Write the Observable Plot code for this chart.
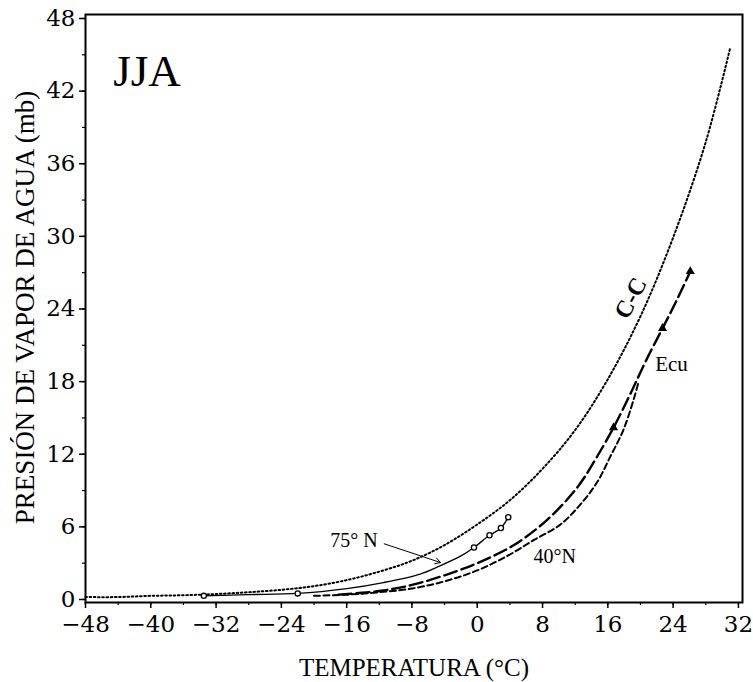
<!DOCTYPE html>
<html>
<head>
<meta charset="utf-8">
<script src="https://cdn.jsdelivr.net/npm/d3@7"></script>
<script src="https://cdn.jsdelivr.net/npm/@observablehq/plot@0.6"></script>
<style>
  html, body { margin: 0; padding: 0; background: white; }
  #chart svg { display: block; }
</style>
</head>
<body>
<div id="chart"></div>
<script>
// Curva de Clausius-Clapeyron (C-C)
const ccT = [-48, -44, -40, -36, -32, -28, -24, -20, -16, -12, -8, -4, 0, 4, 8, 12, 16, 20, 24, 28, 31];
const ccE = [0.2, 0.2, 0.3, 0.35, 0.45, 0.6, 0.8, 1.1, 1.6, 2.3, 3.2, 4.5, 6.2, 8.2, 10.8, 14.0, 18.2, 23.4, 29.9, 37.8, 45.6];

// 75° N (línea continua)
const n75T = [-33.5, -28, -22, -16, -11.5, -7, -4.5, -2, -0.4, 1.5, 2.9, 3.8];
const n75E = [0.3, 0.4, 0.5, 0.9, 1.4, 2.1, 2.8, 3.6, 4.3, 5.3, 5.9, 6.8];
const n75Marks = [-33.5, -22, -0.4, 1.5, 2.9, 3.8];

// Ecuador (trazos largos)
const ecuT = [-17, -12, -8, -4, 0, 4.5, 8.6, 12.3, 14.5, 16.7, 18.2, 19.4, 20.8, 22.7, 24.5, 26.1];
const ecuE = [0.4, 0.7, 1.2, 2.0, 3.0, 4.5, 6.6, 9.3, 11.6, 14.2, 16.2, 17.9, 19.9, 22.4, 24.8, 27.1];
const ecuMarks = [16.7, 22.7, 26.1];

// 40° N (trazos cortos)
const n40T = [-20, -16, -12, -8, -4, 0, 3.7, 6.9, 10.2, 12.7, 14.7, 16.3, 17.9, 19.2, 19.7];
const n40E = [0.3, 0.4, 0.6, 0.9, 1.5, 2.4, 3.6, 4.9, 6.2, 7.9, 9.7, 11.8, 14.0, 16.6, 17.8];

// Ejes
const xTicks = [-48, -40, -32, -24, -16, -8, 0, 8, 16, 24, 32];
const xMinor = d3.range(-48, 33, 4);
const yTicks = [0, 6, 12, 18, 24, 30, 36, 42, 48];
const yMinor = d3.range(0, 49, 3);

const xTitle = "TEMPERATURA (°C)";
const yTitle = "PRESIÓN DE VAPOR DE AGUA (mb)";

// Anotaciones (en coordenadas de datos)
const labels = [
  {text: "JJA", T: -44.6, e: 42.4, size: 45, weight: "normal", rotate: 0, anchor: "start", line: "bottom"},
  {text: "C-C", T: 18.8, e: 24.9, size: 24, weight: "bold", rotate: -62, anchor: "middle", line: "middle"},
  {text: "Ecu", T: 21.8, e: 18.9, size: 21, weight: "normal", rotate: 0, anchor: "start", line: "bottom"},
  {text: "75° N", T: -18.0, e: 4.3, size: 20, weight: "normal", rotate: 0, anchor: "start", line: "bottom"},
  {text: "40°N", T: 6.9, e: 3.0, size: 20, weight: "normal", rotate: 0, anchor: "start", line: "bottom"}
];
const arrow75 = [{x1: -11.4, y1: 4.6, x2: -4.5, y2: 3.05}];

const toRows = (T, E) => T.map((t, i) => ({T: t, e: E[i]}));
const cc = toRows(ccT, ccE);
const n75 = toRows(n75T, n75E);
const ecu = toRows(ecuT, ecuE);
const n40 = toRows(n40T, n40E);

const serif = "Liberation Serif, Times New Roman, serif";

const chart = Plot.plot({
  width: 753,
  height: 682,
  marginLeft: 85,
  marginRight: 11,
  marginTop: 14,
  marginBottom: 80,
  style: {background: "white", fontFamily: "DejaVu Serif, serif", fontSize: "23px", color: "black"},
  x: {domain: [-48, 32.5]},
  y: {domain: [-0.25, 48.33]},
  marks: [
    Plot.axisX(xMinor, {tickSize: 3, text: null, label: null, strokeWidth: 1.2}),
    Plot.axisY(yMinor, {tickSize: 3, text: null, label: null, strokeWidth: 1.2}),
    Plot.axisX(xTicks, {tickSize: 6, tickPadding: 7, label: null, fontSize: 23, strokeWidth: 1.5}),
    Plot.axisY(yTicks, {tickSize: 6, tickPadding: 4, label: null, fontSize: 23, strokeWidth: 1.5}),
    Plot.frame({stroke: "black", strokeWidth: 2}),
    Plot.line(cc, {x: "T", y: "e", curve: "catmull-rom", stroke: "black", strokeWidth: 2, strokeDasharray: "1.6,2.6"}),
    Plot.line(n40, {x: "T", y: "e", curve: "catmull-rom", stroke: "black", strokeWidth: 2, strokeDasharray: "6,3.5"}),
    Plot.line(ecu, {x: "T", y: "e", curve: "catmull-rom", stroke: "black", strokeWidth: 2.4, strokeDasharray: "13,5"}),
    Plot.line(n75, {x: "T", y: "e", curve: "catmull-rom", stroke: "black", strokeWidth: 1.3}),
    Plot.dot(n75.filter(d => n75Marks.includes(d.T)), {x: "T", y: "e", r: 2.6, fill: "white", stroke: "black", strokeWidth: 1.3}),
    Plot.dot(ecu.filter(d => ecuMarks.includes(d.T)), {x: "T", y: "e", r: 2.4, symbol: "triangle", fill: "black", stroke: "black"}),
    Plot.arrow(arrow75, {x1: "x1", y1: "y1", x2: "x2", y2: "y2", stroke: "black", strokeWidth: 1, headLength: 9}),
    ...labels.map(l => Plot.text([l], {
      x: "T", y: "e", text: "text", fontSize: l.size, fontWeight: l.weight, rotate: l.rotate,
      textAnchor: l.anchor, lineAnchor: l.line, fontFamily: serif, fill: "black"
    })),
    Plot.text([xTitle], {frameAnchor: "bottom", dy: 73, textAnchor: "middle", lineAnchor: "bottom", fontSize: 25, fontFamily: serif, fill: "black"}),
    Plot.text([yTitle], {frameAnchor: "left", dx: -60, dy: -1, rotate: -90, textAnchor: "middle", lineAnchor: "middle", fontSize: 27, fontFamily: serif, fill: "black"})
  ]
});
document.getElementById("chart").appendChild(chart);
</script>
</body>
</html>
